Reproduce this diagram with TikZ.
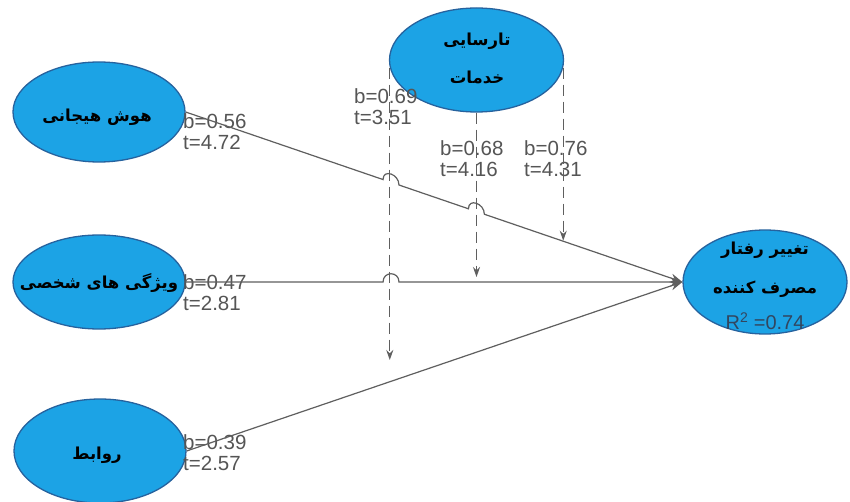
\documentclass[tikz,border=0pt]{standalone}
\usepackage{fontspec}
\setmainfont{Liberation Sans}
\newfontfamily\fa[Script=Arabic]{DejaVu Sans}
\TeXXeTstate=1
\usetikzlibrary{arrows.meta,calc,shapes.geometric}
\definecolor{ovalfill}{RGB}{28,163,229}
\definecolor{ovaldraw}{RGB}{38,98,158}
\definecolor{linegray}{RGB}{95,95,95}
\definecolor{txtgray}{RGB}{85,85,85}
\definecolor{rtxt}{RGB}{50,70,95}
\begin{document}
\begin{tikzpicture}[x=1pt,y=-1pt,
  oval/.style={ellipse, draw=ovaldraw, line width=1.3pt, fill=ovalfill, inner sep=0pt},
  fatext/.style={font=\fa\bfseries\fontsize{16.5}{19}\selectfont, text=black, inner sep=0pt},
  lbl/.style={font=\fontsize{20.5}{21}\selectfont, text=txtgray, align=left, inner sep=0pt, anchor=west},
  conn/.style={draw=linegray, line width=1.2pt, -{Stealth[length=12pt,width=9pt]}},
  dconn/.style={draw=linegray, line width=1.1pt, dash pattern=on 11pt off 6pt, -{Stealth[length=10pt,width=7pt]}}]
\useasboundingbox[fill=white] (0,0) rectangle (850,502);

% ovals
\node[oval, minimum width=172pt, minimum height=100pt] (emo) at (99,112) {};
\node[oval, minimum width=172pt, minimum height=94pt] (pers) at (99,282) {};
\node[oval, minimum width=172pt, minimum height=104pt] (rel) at (100,451) {};
\node[oval, minimum width=174pt, minimum height=104pt] (serv) at (476.5,60) {};
\node[oval, minimum width=164pt, minimum height=104pt] (tgt) at (765,282) {};

% oval texts
\node[fatext] (emotxt) at (97,117) {\beginR هوش هیجانی\endR};
\node[fatext] (perstxt) at (99,283) {\beginR ویژگی های شخصی\endR};
\node[fatext] (reltxt) at (97,455) {\beginR روابط\endR};
\node[fatext] (servtxtA) at (477,41) {\beginR تارسایی\endR};
\node[fatext] (servtxtB) at (477,77) {\beginR خدمات\endR};
\node[fatext] (tgttxtA) at (765,250) {\beginR تغییر رفتار\endR};
\node[fatext] (tgttxtB) at (765,289) {\beginR مصرف کننده\endR};
\node[font=\fontsize{20}{21}\selectfont, text=rtxt, inner sep=0pt] (tgtr) at (765,321) {R\textsuperscript{2} =0.74};

% coefficient labels
\node[lbl] (lb1) at (183,132) {b=0.56\\t=4.72};
\node[lbl] (lb2) at (354,107) {b=0.69\\t=3.51};
\node[lbl] (lb3) at (440,159) {b=0.68\\t=4.16};
\node[lbl] (lb4) at (524,159) {b=0.76\\t=4.31};
\node[lbl] (lb5) at (183,293) {b=0.47\\t=2.81};
\node[lbl] (lb6) at (183,453) {b=0.39\\t=2.57};

% solid paths with hops
\draw[conn] (emo.east) -- ($(emo.east)!0.3974!(tgt.west)$)
  .. controls +(0,-11) and +(0,-11) .. ($(emo.east)!0.4295!(tgt.west)$)
  -- ($(emo.east)!0.5693!(tgt.west)$)
  .. controls +(0,-11) and +(0,-11) .. ($(emo.east)!0.6014!(tgt.west)$)
  -- (tgt.west);
\draw[conn] (pers.east) -- ($(pers.east)!0.3974!(tgt.west)$)
  .. controls +(0,-11) and +(0,-11) .. ($(pers.east)!0.4295!(tgt.west)$)
  -- (tgt.west);
\draw[conn] (rel.east) -- (tgt.west);

% dashed moderating paths
\coordinate (d1end) at (391,360);
\coordinate (d2end) at (477,277);
\coordinate (r1) at ($(emo.east)!0.757!(tgt.west)$);
\draw[dconn] (serv.185) -- (serv.185 |- d1end);
\draw[dconn] (serv.south) -- (serv.south |- d2end);
\draw[dconn] (serv.355) -- (serv.355 |- r1);
\end{tikzpicture}
\end{document}
